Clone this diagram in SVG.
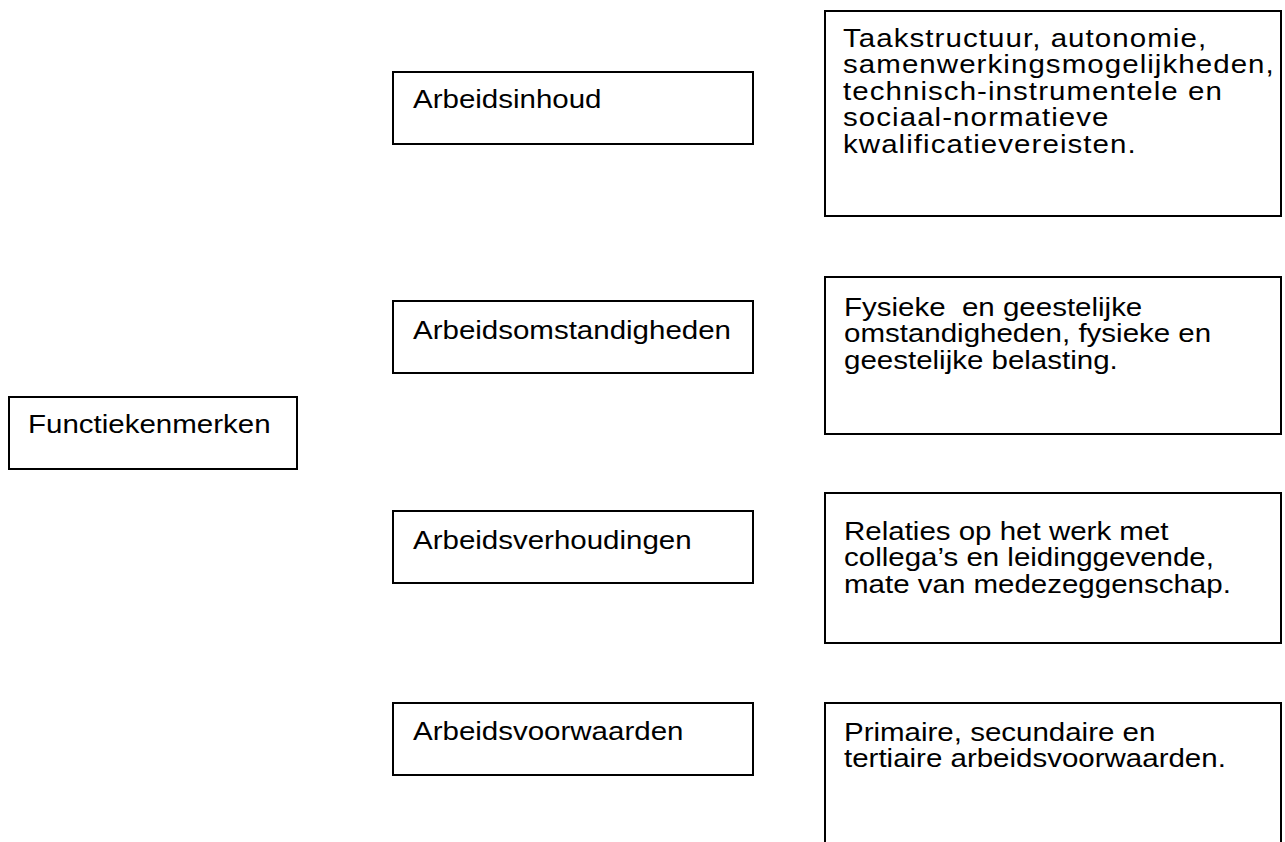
<svg xmlns="http://www.w3.org/2000/svg" width="1285" height="842" viewBox="0 0 1285 842">
<style>
rect.box{fill:#fff;stroke:#000;stroke-width:2}
text{font-family:"Liberation Sans",Arial,sans-serif;font-size:25px;fill:#000}
.wide{letter-spacing:0.9px}
</style>
<rect width="1285" height="842" fill="#fff"/>
<g id="connectors"></g>
<g id="functiekenmerken">
<rect class="box" x="9" y="397" width="288" height="72"/>
<text transform="translate(28,433) scale(1.18,1)">Functiekenmerken</text>
</g>
<g id="arbeidsinhoud">
<rect class="box" x="393" y="72" width="360" height="72"/>
<text transform="translate(413,108) scale(1.18,1)">Arbeidsinhoud</text>
</g>
<g id="arbeidsomstandigheden">
<rect class="box" x="393" y="301" width="360" height="72"/>
<text transform="translate(413,339) scale(1.18,1)">Arbeidsomstandigheden</text>
</g>
<g id="arbeidsverhoudingen">
<rect class="box" x="393" y="511" width="360" height="72"/>
<text transform="translate(413,548.5) scale(1.18,1)">Arbeidsverhoudingen</text>
</g>
<g id="arbeidsvoorwaarden">
<rect class="box" x="393" y="703" width="360" height="72"/>
<text transform="translate(413,740) scale(1.18,1)">Arbeidsvoorwaarden</text>
</g>
<g id="inhoud-toelichting">
<rect class="box" x="825" y="11" width="456" height="205"/>
<text class="wide" transform="translate(843,47) scale(1.18,1)"><tspan x="0" y="0">Taakstructuur, autonomie,</tspan><tspan x="0" y="26.5">samenwerkingsmogelijkheden,</tspan><tspan x="0" y="53">technisch-instrumentele en</tspan><tspan x="0" y="79.5">sociaal-normatieve</tspan><tspan x="0" y="106">kwalificatievereisten.</tspan></text>
</g>
<g id="omstandigheden-toelichting">
<rect class="box" x="825" y="277" width="456" height="157"/>
<text xml:space="preserve" transform="translate(844,316) scale(1.18,1)"><tspan x="0" y="0">Fysieke  en geestelijke</tspan><tspan x="0" y="26.5">omstandigheden, fysieke en</tspan><tspan x="0" y="53">geestelijke belasting.</tspan></text>
</g>
<g id="verhoudingen-toelichting">
<rect class="box" x="825" y="493" width="456" height="150"/>
<text transform="translate(844,540) scale(1.18,1)"><tspan x="0" y="0">Relaties op het werk met</tspan><tspan x="0" y="26.5">collega’s en leidinggevende,</tspan><tspan x="0" y="53">mate van medezeggenschap.</tspan></text>
</g>
<g id="voorwaarden-toelichting">
<rect class="box" x="825" y="703" width="456" height="160"/>
<text transform="translate(844,741) scale(1.18,1)"><tspan x="0" y="0">Primaire, secundaire en</tspan><tspan x="0" y="26.5">tertiaire arbeidsvoorwaarden.</tspan></text>
</g>
</svg>
